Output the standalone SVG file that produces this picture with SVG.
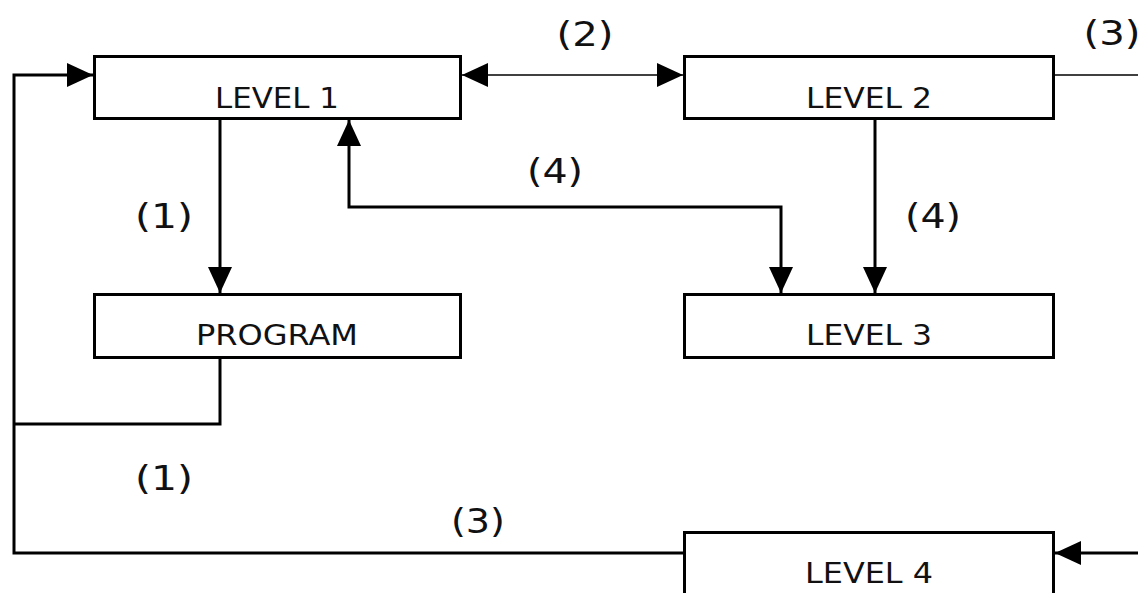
<svg xmlns="http://www.w3.org/2000/svg" width="1138" height="593" viewBox="0 0 1138 593">
  <style>
    .box { fill: #ffffff; stroke: #000000; stroke-width: 3; }
    .name { font-family: "DejaVu Sans", Verdana, sans-serif; font-size: 28px; fill: #111111; text-anchor: middle; }
    .tag { font-family: "DejaVu Sans", Verdana, sans-serif; font-size: 33px; fill: #111111; text-anchor: middle; }
    .wire { fill: none; stroke: #000000; stroke-width: 3; stroke-linejoin: miter; }
    .thin { fill: none; stroke: #000000; stroke-width: 1.6; }
  </style>
  <defs>
    <marker id="ah" markerUnits="userSpaceOnUse" viewBox="0 0 26 24" markerWidth="26" markerHeight="24" refX="26" refY="12" orient="auto-start-reverse">
      <path d="M0,0 L26,12 L0,24 Z" fill="#000000"/>
    </marker>
  </defs>
  <rect width="1138" height="593" fill="#ffffff"/>

  <!-- connectors -->
  <g id="connectors">
    <path class="wire" d="M683,553 H14 V75 H93" marker-end="url(#ah)"/>
    <path class="wire" d="M220,358 V424 H14"/>
    <path class="wire" d="M220,120 V293" marker-end="url(#ah)"/>
    <path class="thin" d="M462,75 H683" marker-start="url(#ah)" marker-end="url(#ah)"/>
    <path class="thin" d="M1055,75 H1138"/>
    <path class="wire" d="M875,120 V293" marker-end="url(#ah)"/>
    <path class="wire" d="M349,120 V207 H781 V293" marker-start="url(#ah)" marker-end="url(#ah)"/>
    <path class="wire" d="M1138,553 H1055" marker-end="url(#ah)"/>
  </g>

  <!-- connector labels -->
  <g id="labels">
    <text class="tag" x="164" y="228" textLength="58" lengthAdjust="spacingAndGlyphs">(1)</text>
    <text class="tag" x="164" y="490" textLength="58" lengthAdjust="spacingAndGlyphs">(1)</text>
    <text class="tag" x="585" y="46" textLength="57" lengthAdjust="spacingAndGlyphs">(2)</text>
    <text class="tag" x="1112" y="45" textLength="57" lengthAdjust="spacingAndGlyphs">(3)</text>
    <text class="tag" x="478" y="533" textLength="54" lengthAdjust="spacingAndGlyphs">(3)</text>
    <text class="tag" x="555" y="183" textLength="56" lengthAdjust="spacingAndGlyphs">(4)</text>
    <text class="tag" x="933" y="228" textLength="56" lengthAdjust="spacingAndGlyphs">(4)</text>
  </g>

  <!-- nodes -->
  <g id="level1">
    <rect class="box" x="94.5" y="56.5" width="366" height="62"/>
    <text class="name" x="277" y="108" textLength="124" lengthAdjust="spacingAndGlyphs">LEVEL 1</text>
  </g>
  <g id="level2">
    <rect class="box" x="684.5" y="56.5" width="369" height="62"/>
    <text class="name" x="869" y="108" textLength="126" lengthAdjust="spacingAndGlyphs">LEVEL 2</text>
  </g>
  <g id="program">
    <rect class="box" x="94.5" y="294.5" width="366" height="63"/>
    <text class="name" x="277" y="345" textLength="162" lengthAdjust="spacingAndGlyphs">PROGRAM</text>
  </g>
  <g id="level3">
    <rect class="box" x="684.5" y="294.5" width="369" height="63"/>
    <text class="name" x="869" y="345" textLength="126" lengthAdjust="spacingAndGlyphs">LEVEL 3</text>
  </g>
  <g id="level4">
    <rect class="box" x="684.5" y="532.5" width="369" height="70"/>
    <text class="name" x="869" y="583" textLength="128" lengthAdjust="spacingAndGlyphs">LEVEL 4</text>
  </g>
</svg>
